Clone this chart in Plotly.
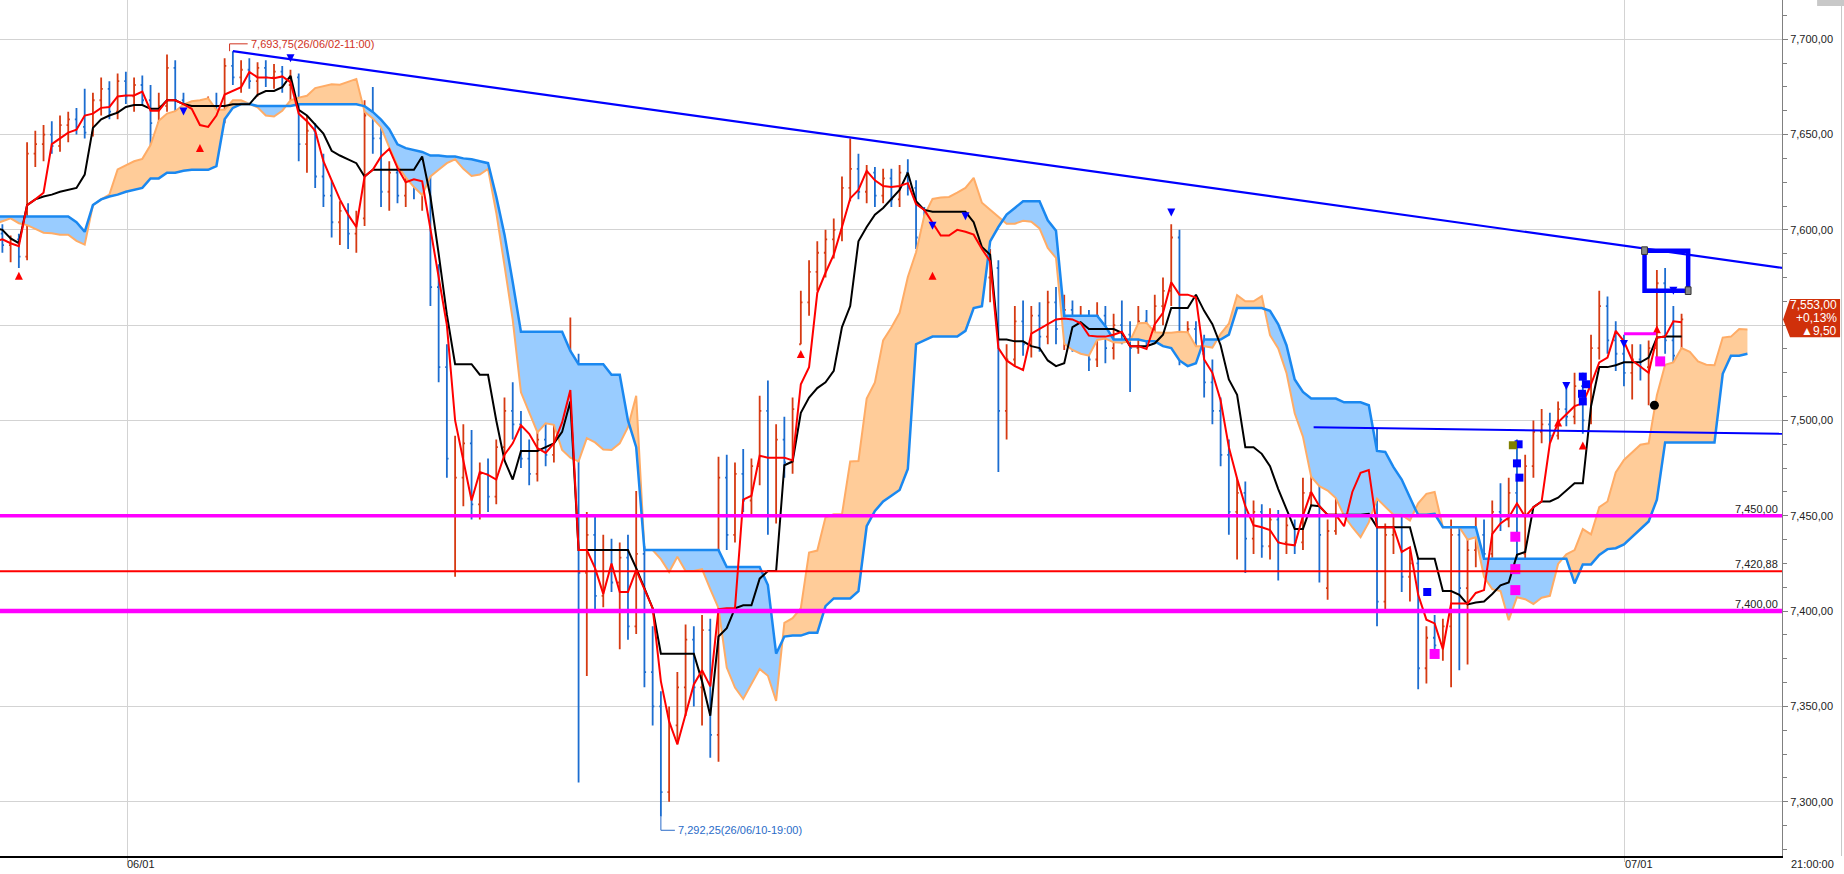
import numpy as np
import pandas as pd
import plotly.graph_objects as go

# OHLC bars, oldest first. The first 24 bars are history left of the view
# (needed so the cloud exists at the left edge).
opens = [
    7600, 7605, 7610, 7615, 7608, 7600, 7595, 7602, 7610, 7618,
    7622, 7615, 7606, 7598, 7592, 7600, 7608, 7612, 7605, 7598,
    7602, 7596, 7590, 7594,
    7598, 7592, 7595, 7586, 7640, 7645, 7650, 7644, 7655, 7658,
    7654, 7651, 7668, 7674, 7662, 7678, 7670, 7676, 7668, 7656,
    7665, 7685, 7668, 7646, 7650, 7660, 7665, 7658, 7686, 7680,
    7684, 7678, 7685, 7680, 7683, 7676, 7680, 7645, 7652, 7628,
    7618, 7604, 7610, 7598, 7606, 7660, 7648, 7620, 7630, 7618,
    7634, 7622, 7626, 7570, 7528, 7450, 7470, 7488, 7456, 7472,
    7460, 7486, 7505, 7498, 7480, 7472, 7490, 7482, 7503, 7516,
    7520, 7420, 7440, 7408, 7432, 7415, 7428, 7392, 7430, 7368,
    7350, 7305, 7340, 7360, 7385, 7360, 7390, 7335, 7470, 7440,
    7472, 7458, 7476, 7505, 7450, 7490, 7478, 7540, 7562, 7578,
    7588, 7595, 7600, 7622, 7632, 7620, 7630, 7618, 7627, 7616,
    7630, 7622, 7596, 7590, 7594, 7605, 7596, 7606, 7592, 7600,
    7575, 7580, 7505, 7532, 7552, 7540, 7555, 7544, 7562, 7548,
    7558, 7542, 7552, 7532, 7555, 7538, 7550, 7545, 7538, 7552,
    7545, 7560, 7568, 7596, 7540, 7548, 7535, 7520, 7505, 7482,
    7452, 7462, 7438, 7452, 7434, 7448, 7436, 7445, 7436, 7462,
    7488, 7412, 7442, 7468, 7460, 7480, 7476, 7490, 7405, 7440,
    7452, 7418, 7425, 7370, 7386, 7382, 7392, 7440, 7412, 7432,
    7440, 7430, 7452, 7448, 7462, 7430, 7476, 7494, 7498, 7492,
    7506, 7502, 7518, 7500, 7538, 7560, 7542, 7535, 7525, 7532,
    7528, 7538, 7572, 7542, 7534,
]
highs = [
    7609, 7614, 7620, 7618, 7611, 7604, 7606, 7614, 7622, 7628,
    7625, 7618, 7609, 7601, 7604, 7612, 7616, 7614, 7608, 7606,
    7605, 7599, 7598, 7602,
    7603, 7597, 7598, 7646, 7652, 7655, 7657, 7660, 7662, 7664,
    7674, 7672, 7680, 7678, 7682, 7683, 7680, 7681, 7676, 7672,
    7692, 7689, 7672, 7656, 7664, 7670, 7672, 7690, 7693.75, 7689,
    7690, 7688, 7689, 7687, 7686, 7684, 7682, 7660, 7656, 7640,
    7626, 7615, 7614, 7610, 7668, 7675, 7655, 7636, 7638, 7640,
    7641, 7630, 7630, 7582, 7540, 7492, 7498, 7495, 7478, 7480,
    7490, 7512, 7520, 7505, 7490, 7494, 7500, 7508, 7522, 7554,
    7535, 7452, 7450, 7440, 7438, 7436, 7440, 7463, 7434, 7392,
    7358, 7350, 7368, 7393, 7392, 7398, 7396, 7481, 7482, 7478,
    7485, 7480, 7513, 7521, 7498, 7502, 7512, 7568, 7584, 7594,
    7600, 7606, 7628, 7648, 7640, 7634, 7633, 7632, 7632, 7634,
    7637, 7626, 7612, 7597, 7610, 7612, 7610, 7610, 7605, 7603,
    7590, 7584, 7540, 7560, 7563, 7560, 7562, 7568, 7570, 7566,
    7563, 7560, 7558, 7562, 7560, 7556, 7563, 7552, 7560, 7558,
    7566, 7575, 7603, 7600, 7552, 7552, 7545, 7532, 7512, 7490,
    7470, 7468, 7458, 7456, 7454, 7453, 7450, 7448, 7470, 7495,
    7495, 7448, 7475, 7483, 7485, 7493, 7496, 7496, 7446, 7462,
    7458, 7432, 7428, 7392, 7398, 7396, 7448, 7444, 7440, 7450,
    7448, 7458, 7467, 7470, 7490, 7482, 7500, 7506, 7504, 7510,
    7518, 7525, 7525, 7545, 7568, 7565, 7552, 7545, 7540, 7540,
    7542, 7579, 7580, 7560, 7556,
]
lows = [
    7596, 7601, 7606, 7604, 7596, 7590, 7592, 7599, 7606, 7614,
    7611, 7602, 7594, 7586, 7588, 7597, 7604, 7601, 7594, 7595,
    7592, 7586, 7587, 7592,
    7588, 7583, 7580, 7584, 7633, 7636, 7640, 7641, 7646, 7650,
    7648, 7649, 7660, 7658, 7658, 7666, 7662, 7665, 7644, 7644,
    7662, 7662, 7640, 7638, 7648, 7654, 7652, 7656, 7676, 7672,
    7674, 7670, 7675, 7674, 7672, 7668, 7636, 7630, 7622, 7612,
    7596, 7592, 7590, 7588, 7602, 7640, 7612, 7610, 7614, 7612,
    7616, 7610, 7560, 7520, 7470, 7418, 7455, 7448, 7448, 7452,
    7456, 7480, 7490, 7475, 7466, 7468, 7476, 7478, 7496, 7505,
    7310, 7366, 7400, 7402, 7410, 7380, 7385, 7388, 7360, 7340,
    7292.25, 7300, 7330, 7345, 7350, 7340, 7323, 7321, 7432, 7436,
    7452, 7450, 7466, 7440, 7446, 7470, 7472, 7540, 7555, 7568,
    7575, 7585, 7594, 7615, 7616, 7614, 7612, 7614, 7612, 7612,
    7618, 7590, 7584, 7582, 7588, 7590, 7592, 7586, 7585, 7570,
    7562, 7473, 7490, 7528, 7534, 7533, 7536, 7540, 7540, 7537,
    7536, 7538, 7526, 7528, 7530, 7532, 7540, 7515, 7535, 7538,
    7542, 7550, 7560, 7529, 7535, 7530, 7512, 7498, 7476, 7440,
    7427, 7420, 7430, 7428, 7427, 7416, 7430, 7430, 7432, 7455,
    7415, 7406, 7440, 7455, 7452, 7470, 7462, 7392, 7400, 7430,
    7410, 7405, 7359, 7362, 7378, 7374, 7360, 7369, 7372, 7423,
    7425, 7428, 7442, 7444, 7423, 7409, 7470, 7488, 7488, 7490,
    7497, 7498, 7493, 7498, 7532, 7535, 7526, 7518, 7511, 7521,
    7508, 7530, 7535, 7524, 7523,
]
closes = [
    7605, 7610, 7615, 7608, 7600, 7595, 7602, 7610, 7618, 7622,
    7615, 7606, 7598, 7592, 7600, 7608, 7612, 7605, 7598, 7602,
    7596, 7590, 7594, 7598,
    7592, 7595, 7586, 7640, 7645, 7650, 7644, 7655, 7658, 7654,
    7651, 7668, 7674, 7662, 7678, 7670, 7676, 7668, 7656, 7665,
    7685, 7668, 7646, 7650, 7660, 7665, 7658, 7686, 7680, 7684,
    7678, 7685, 7680, 7683, 7676, 7680, 7645, 7652, 7628, 7618,
    7604, 7610, 7598, 7606, 7660, 7648, 7620, 7630, 7618, 7634,
    7622, 7626, 7570, 7528, 7480, 7470, 7488, 7456, 7472, 7460,
    7486, 7505, 7498, 7480, 7472, 7490, 7482, 7503, 7516, 7520,
    7420, 7440, 7408, 7432, 7415, 7428, 7392, 7430, 7368, 7350,
    7305, 7340, 7360, 7385, 7360, 7390, 7335, 7470, 7440, 7472,
    7458, 7476, 7505, 7450, 7490, 7478, 7506, 7562, 7578, 7588,
    7595, 7600, 7622, 7632, 7620, 7630, 7618, 7627, 7616, 7630,
    7622, 7596, 7590, 7594, 7605, 7596, 7606, 7592, 7600, 7575,
    7580, 7505, 7532, 7552, 7540, 7555, 7544, 7562, 7548, 7558,
    7542, 7552, 7532, 7555, 7538, 7550, 7545, 7538, 7552, 7545,
    7560, 7568, 7596, 7540, 7548, 7535, 7520, 7505, 7482, 7452,
    7462, 7438, 7452, 7434, 7448, 7436, 7445, 7436, 7462, 7488,
    7440, 7442, 7468, 7460, 7480, 7476, 7490, 7405, 7440, 7452,
    7418, 7425, 7370, 7386, 7382, 7392, 7440, 7412, 7432, 7440,
    7430, 7452, 7448, 7462, 7430, 7476, 7494, 7498, 7492, 7506,
    7502, 7518, 7500, 7538, 7560, 7542, 7535, 7525, 7532, 7528,
    7538, 7572, 7542, 7534, 7553,
]
FIRST_VISIBLE = 24

# x-axis date marks (bar position) and labels
date_ticks = [39.14, 221.1]
date_labels = ["06/01", "07/01"]

# y-axis ticks (7,550 sits under the last-price tag)
y_ticks = [7300, 7350, 7400, 7450, 7500, 7550, 7600, 7650, 7700]
y_labels = ["7,300,00", "7,350,00", "7,400,00", "7,450,00", "7,500,00",
            "", "7,600,00", "7,650,00", "7,700,00"]

# horizontal price levels
level_vals = [7450.0, 7420.88, 7400.0]
level_text = ["7,450,00", "7,420,88", "7,400,00"]
level_colors = ["#ff00ff", "#ff0000", "#ff00ff"]
level_widths = [3.5, 2, 4.5]

# trend lines: falling resistance and the short support line
trend_x = [52, 240.2]
trend_y = [7693.75, 7580.1]
support_x = [183.3, 240.2]
support_y = [7496.5, 7493.0]
box_x = [223.5, 228.8]
box_y = [7568.1, 7589.1]
short_x = [221.0, 224.9]
short_y = [7545.5, 7545.5]

# signal markers
down_x = [46, 59, 137, 141, 166, 214, 221, 227]
down_y = [7660, 7688, 7600, 7605, 7607, 7516, 7538, 7566]
up_x = [26, 48, 121, 137, 213, 216, 225]
up_y = [7578, 7645, 7537, 7578, 7501, 7489, 7550]
pink_x = [198, 207.8, 207.8, 207.8, 225.4]
pink_y = [7377.5, 7439, 7422, 7411, 7531]
blue_sq_x = [197.1, 208.2, 208.0, 208.3, 216.0, 216.4, 215.9, 216.0]
blue_sq_y = [7410, 7487.5, 7477.5, 7470, 7523, 7519, 7514, 7510]
olive_x = [207.5]
olive_y = [7487]
dot_x = [224.7]
dot_y = [7508]

last_price = 7553
last_lines = ["7,553,00", "+0,13%", "▲9,50"]
last_line_y = [7560.6, 7553.7, 7546.9]

bars = pd.DataFrame({"open": opens, "high": highs, "low": lows, "close": closes})
bars["x"] = np.arange(len(bars))

# ichimoku, periods scaled to this bar density (9/26/52 -> 3/8/16, shift 26 -> 8)
hi, lo = bars["high"], bars["low"]
tenkan = (hi.rolling(3).max() + lo.rolling(3).min()) / 2
kijun = (hi.rolling(8).max() + lo.rolling(8).min()) / 2
span_a = (tenkan + kijun) / 2
span_b = (hi.rolling(16).max() + lo.rolling(16).min()) / 2
SHIFT = 8

cl = pd.DataFrame({"x": bars["x"] + SHIFT, "a": span_a, "b": span_b}).dropna()
cl = cl[cl.x >= FIRST_VISIBLE - 1]
cx, ca, cb = cl.x.values.astype(float), cl.a.values, cl.b.values
xs, A, B = [], [], []
for i in range(len(cx)):
    if i > 0:
        d0, d1 = ca[i - 1] - cb[i - 1], ca[i] - cb[i]
        if d0 * d1 < 0:
            t = d0 / (d0 - d1)
            v = ca[i - 1] + t * (ca[i] - ca[i - 1])
            xs.append(cx[i - 1] + t * (cx[i] - cx[i - 1]))
            A.append(v)
            B.append(v)
    xs.append(cx[i])
    A.append(ca[i])
    B.append(cb[i])
A, B = np.array(A), np.array(B)
top = np.maximum(A, B)

vis = bars[bars.x >= FIRST_VISIBLE - 1]

fig = go.Figure()
nol = dict(width=0)
fig.add_trace(go.Scatter(x=xs, y=B, mode="lines", line=nol, hoverinfo="skip"))
fig.add_trace(go.Scatter(x=xs, y=top, mode="lines", line=nol, fill="tonexty",
                         fillcolor="#ffcc99", hoverinfo="skip"))
fig.add_trace(go.Scatter(x=xs, y=A, mode="lines", line=nol, hoverinfo="skip"))
fig.add_trace(go.Scatter(x=xs, y=top, mode="lines", line=nol, fill="tonexty",
                         fillcolor="#99ccff", hoverinfo="skip"))
fig.add_trace(go.Scatter(x=xs, y=A, mode="lines", line=dict(color="#ffac66", width=2)))
fig.add_trace(go.Scatter(x=xs, y=B, mode="lines", line=dict(color="#1a88f0", width=2.5)))

fig.add_trace(go.Ohlc(
    x=bars["x"], open=bars["open"], high=bars["high"], low=bars["low"], close=bars["close"],
    increasing=dict(line=dict(color="#d63a12", width=1.8)),
    decreasing=dict(line=dict(color="#1c6dd0", width=1.8)),
    tickwidth=0.2,
))

fig.add_trace(go.Scatter(x=vis["x"], y=kijun[vis.index], mode="lines",
                         line=dict(color="#000000", width=2)))
fig.add_trace(go.Scatter(x=vis["x"], y=tenkan[vis.index], mode="lines",
                         line=dict(color="#ff0000", width=2)))

# markers
fig.add_trace(go.Scatter(x=pink_x, y=pink_y, mode="markers",
                         marker=dict(symbol="square", size=10, color="#ff00ff")))
fig.add_trace(go.Scatter(x=blue_sq_x, y=blue_sq_y, mode="markers",
                         marker=dict(symbol="square", size=8, color="#0000ff")))
fig.add_trace(go.Scatter(x=olive_x, y=olive_y, mode="markers",
                         marker=dict(symbol="square", size=8, color="#808000")))
fig.add_trace(go.Scatter(x=dot_x, y=dot_y, mode="markers",
                         marker=dict(symbol="circle", size=9, color="#000000")))
fig.add_trace(go.Scatter(x=down_x, y=down_y, mode="markers",
                         marker=dict(symbol="arrow-down", size=8, color="#0000ff")))
fig.add_trace(go.Scatter(x=up_x, y=up_y, mode="markers",
                         marker=dict(symbol="arrow-up", size=8, color="#ff0000")))

shapes = []
for v, c, w in zip(level_vals, level_colors, level_widths):
    shapes.append(dict(type="line", xref="paper", x0=0, x1=1, yref="y", y0=v, y1=v,
                       line=dict(color=c, width=w)))
shapes.append(dict(type="line", x0=trend_x[0], x1=trend_x[1], y0=trend_y[0], y1=trend_y[1],
                   line=dict(color="#0000ff", width=2.2)))
shapes.append(dict(type="line", x0=support_x[0], x1=support_x[1], y0=support_y[0],
                   y1=support_y[1], line=dict(color="#0000ff", width=2)))
shapes.append(dict(type="line", x0=short_x[0], x1=short_x[1], y0=short_y[0], y1=short_y[1],
                   line=dict(color="#ff00ff", width=3)))
shapes.append(dict(type="rect", x0=box_x[0], x1=box_x[1], y0=box_y[0], y1=box_y[1],
                   line=dict(color="#0000ff", width=4.5)))
for hx, hy in [(box_x[0], box_y[1]), (box_x[1], box_y[0])]:
    shapes.append(dict(type="rect", x0=hx - 0.35, x1=hx + 0.35, y0=hy - 2, y1=hy + 2,
                       fillcolor="#888888", line=dict(color="#333333", width=1)))
# peak / trough leaders
shapes.append(dict(type="path", path=f"M 51.6 {highs[52]} L 51.6 7697.6 L 53.8 7697.6",
                   line=dict(color="#d0321e", width=1)))
shapes.append(dict(type="path", path=f"M 104.0 {lows[104]} L 104.0 7285 L 105.7 7285",
                   line=dict(color="#2a6bc8", width=1)))
# last-price tag on the axis
shapes.append(dict(type="path", xref="paper", yref="y",
                   path=f"M 1.0006 {last_price} L 1.0045 7563.7 L 1.0326 7563.7 "
                        f"L 1.0326 7543.6 L 1.0045 7543.6 Z",
                   fillcolor="#d0300a", line=dict(width=0)))
# far-right frame line and the corner button
shapes.append(dict(type="line", xref="paper", yref="paper", x0=1.0334, x1=1.0334,
                   y0=0, y1=1, line=dict(color="#c8c8c8", width=1)))
shapes.append(dict(type="rect", xref="paper", yref="paper", x0=1.0197, x1=1.035,
                   y0=0.993, y1=1.0, fillcolor="#c8c8c8", line=dict(width=0)))

font = "Liberation Sans"
ann = []
for v, t in zip(level_vals, level_text):
    ann.append(dict(xref="paper", x=0.999, y=v, yref="y", text=t, showarrow=False,
                    xanchor="right", yanchor="bottom", yshift=-1,
                    font=dict(family=font, size=11, color="#222222")))
for xv, t in zip(date_ticks, date_labels):
    ann.append(dict(x=xv, xref="x", y=-0.0098, yref="paper", text=t, showarrow=False,
                    xanchor="left", yanchor="middle", xshift=-2,
                    font=dict(family=font, size=11, color="#222222")))
ann.append(dict(x=1.004, xref="paper", y=-0.0098, yref="paper", text="21:00:00",
                showarrow=False, xanchor="left", yanchor="middle",
                font=dict(family=font, size=11, color="#222222")))
for t, yv in zip(last_lines, last_line_y):
    ann.append(dict(x=1.0316, xref="paper", y=yv, yref="y", showarrow=False, text=t,
                    xanchor="right", yanchor="middle", borderpad=0,
                    font=dict(family=font, size=12, color="#ffffff")))
ann.append(dict(x=54.0, y=7697.6, text="7,693,75(26/06/02-11:00)", showarrow=False,
                xanchor="left", yanchor="middle", font=dict(family=font, size=11, color="#d0321e")))
ann.append(dict(x=105.8, y=7285, text="7,292,25(26/06/10-19:00)", showarrow=False,
                xanchor="left", yanchor="middle", font=dict(family=font, size=11, color="#2a6bc8")))

fig.update_layout(
    width=1844, height=874,
    margin=dict(l=0, r=62, t=0, b=18),
    paper_bgcolor="white", plot_bgcolor="white",
    showlegend=False,
    shapes=shapes, annotations=ann,
    font=dict(family=font, size=11, color="#222222"),
    xaxis=dict(range=[23.71, 240.2], tickvals=date_ticks, showticklabels=False,
               showgrid=True, gridcolor="#d3d3d3", gridwidth=1, zeroline=False,
               ticks="outside", ticklen=4, tickcolor="#c0c0c0",
               showline=True, linecolor="#000000", linewidth=1.5,
               rangeslider=dict(visible=False), fixedrange=True),
    yaxis=dict(side="right", range=[7271.5, 7720.6], tickvals=y_ticks, ticktext=y_labels,
               showgrid=True, gridcolor="#d3d3d3", gridwidth=1, zeroline=False,
               ticks="outside", ticklen=5, tickcolor="#808080",
               minor=dict(tickmode="linear", tick0=7300, dtick=12.5, ticks="outside",
                          ticklen=4, tickcolor="#808080", showgrid=False),
               showline=True, linecolor="#808080", linewidth=1,
               tickfont=dict(family=font, size=11, color="#222222"), fixedrange=True),
)

fig.write_html("out.html", config={"displayModeBar": False},
               post_script="document.body.style.margin='0';")
